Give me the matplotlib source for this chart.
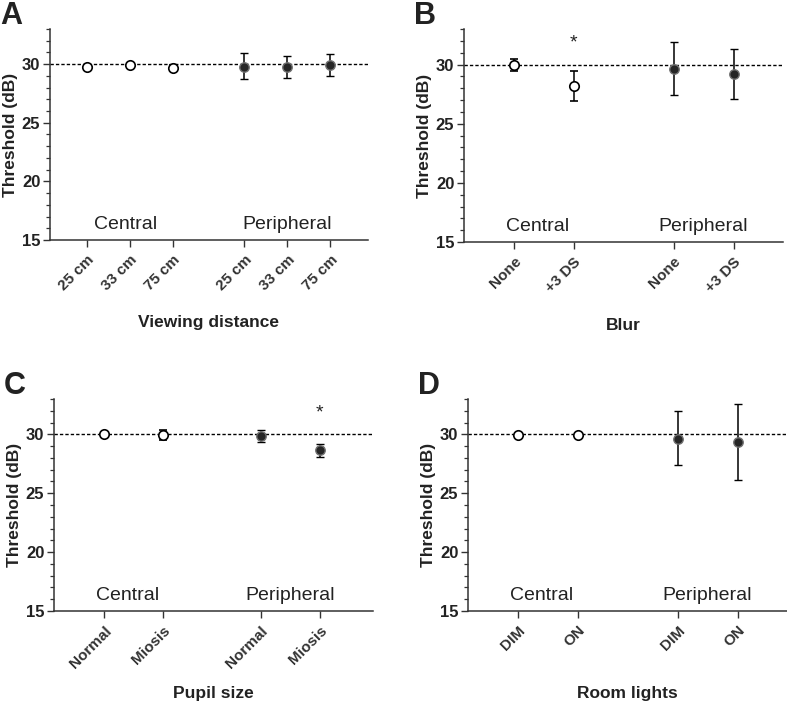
import matplotlib
matplotlib.use("Agg")
import matplotlib.pyplot as plt
from matplotlib.ticker import MultipleLocator

plt.rcParams["font.family"] = ["Liberation Sans", "DejaVu Sans"]

# panel A - viewing distance
a_labels = ["25 cm", "33 cm", "75 cm"]
a_central = [29.77, 29.89, 29.66]
a_central_lo = [29.70, 29.80, 29.40]
a_central_hi = [29.84, 29.98, 29.90]
a_periph = [29.77, 29.77, 29.94]
a_periph_lo = [28.69, 28.83, 29.03]
a_periph_hi = [30.91, 30.71, 30.83]

# panel B - blur
b_labels = ["None", "+3 DS"]
b_central = [30.0, 28.16]
b_central_lo = [29.50, 26.89]
b_central_hi = [30.50, 29.46]
b_periph = [29.66, 29.20]
b_periph_lo = [27.40, 27.06]
b_periph_hi = [31.90, 31.33]

# panel C - pupil size
c_labels = ["Normal", "Miosis"]
c_central = [30.0, 29.94]
c_central_lo = [29.92, 29.49]
c_central_hi = [30.08, 30.37]
c_periph = [29.86, 28.64]
c_periph_lo = [29.32, 28.10]
c_periph_hi = [30.37, 29.21]

# panel D - room lights
d_labels = ["DIM", "ON"]
d_central = [29.97, 29.92]
d_central_lo = [29.92, 29.87]
d_central_hi = [30.02, 29.97]
d_periph = [29.63, 29.32]
d_periph_lo = [27.37, 26.13]
d_periph_hi = [31.95, 32.54]

TXT = "#222222"


def panel(fig, rect, letter, labels, cen, cen_lo, cen_hi, per, per_lo, per_hi,
          xlabel, xlim, star=None):
    ax = fig.add_axes(rect)
    n = len(labels)
    gap = 1.66
    xc = list(range(n))
    xp = [n - 1 + gap + i for i in range(n)]

    ax.axhline(30, color="black", lw=1.0, ls=(0, (2.4, 1.5)), zorder=1)

    ax.errorbar(xc, cen, yerr=[[c - l for c, l in zip(cen, cen_lo)],
                               [h - c for c, h in zip(cen, cen_hi)]],
                fmt="o", ms=6.8, mfc="white", mec="black", mew=1.2,
                ecolor="black", elinewidth=1.1, capsize=3.2, capthick=1.1, zorder=3)
    ax.errorbar(xp, per, yerr=[[c - l for c, l in zip(per, per_lo)],
                               [h - c for c, h in zip(per, per_hi)]],
                fmt="o", ms=6.8, mfc="#262626", mec="#707070", mew=1.0,
                ecolor="black", elinewidth=1.1, capsize=3.2, capthick=1.1, zorder=3)

    ax.set_xlim(*xlim)
    ax.set_ylim(15, 33)
    ax.set_xticks(xc + xp)
    ax.set_xticklabels(labels + labels, rotation=45, ha="right",
                       rotation_mode="anchor", fontsize=11, fontweight="bold",
                       color=TXT)
    ax.set_yticks([15, 20, 25, 30])
    ax.yaxis.set_minor_locator(MultipleLocator(1))
    ax.tick_params(axis="y", labelsize=12, width=1.0, length=5, colors="#333333",
                   labelcolor=TXT, pad=2)
    ax.tick_params(axis="y", which="minor", width=0.9, length=3, colors="#333333")
    ax.tick_params(axis="x", width=1.0, length=5, colors="#333333", pad=4)
    for t in ax.get_yticklabels():
        t.set_fontweight("bold")

    for s in ("top", "right"):
        ax.spines[s].set_visible(False)
    for s in ("left", "bottom"):
        ax.spines[s].set_linewidth(1.1)
        ax.spines[s].set_color("#333333")

    ax.set_ylabel("Threshold (dB)", fontsize=12.5, fontweight="bold", color=TXT)
    ax.yaxis.set_label_coords(-0.1, 0.5)
    ax.set_xlabel(xlabel, fontsize=12.5, fontweight="bold", color=TXT)
    ax.xaxis.set_label_coords(0.5, -0.355)

    ax.text((xc[0] + xc[-1]) / 2 - 0.1, 15.9, "Central", ha="center",
            va="baseline", fontsize=14, color=TXT)
    ax.text((xp[0] + xp[-1]) / 2, 15.9, "Peripheral", ha="center",
            va="baseline", fontsize=14, color=TXT)

    if star is not None:
        grp, idx = star
        sx = xc[idx] if grp == "central" else xp[idx]
        ax.text(sx, 31.1, "*", ha="center", va="bottom", fontsize=14, color=TXT)

    # panel letter, baseline a few px above the axes top
    ax.text(rect[0] - 50 / 787, rect[1] + rect[3] + 5 / 705, letter,
            transform=fig.transFigure, fontsize=22, fontweight="bold",
            color=TXT, ha="left", va="baseline")
    return ax


fig = plt.figure(figsize=(7.87, 7.05), dpi=100)

panel(fig, [0.0635, 0.6596, 0.404, 0.2993], "A", a_labels,
      a_central, a_central_lo, a_central_hi, a_periph, a_periph_lo, a_periph_hi,
      "Viewing distance", (-0.86, 6.53))
panel(fig, [0.5896, 0.6567, 0.405, 0.302], "B", b_labels,
      b_central, b_central_lo, b_central_hi, b_periph, b_periph_lo, b_periph_hi,
      "Blur", (-0.83, 4.48), star=("central", 1))
panel(fig, [0.0686, 0.1333, 0.405, 0.3007], "C", c_labels,
      c_central, c_central_lo, c_central_hi, c_periph, c_periph_lo, c_periph_hi,
      "Pupil size", (-0.85, 4.56), star=("periph", 1))
panel(fig, [0.5947, 0.1333, 0.405, 0.3007], "D", d_labels,
      d_central, d_central_lo, d_central_hi, d_periph, d_periph_lo, d_periph_hi,
      "Room lights", (-0.83, 4.48))

fig.savefig("out.png", dpi=100, facecolor="white")
